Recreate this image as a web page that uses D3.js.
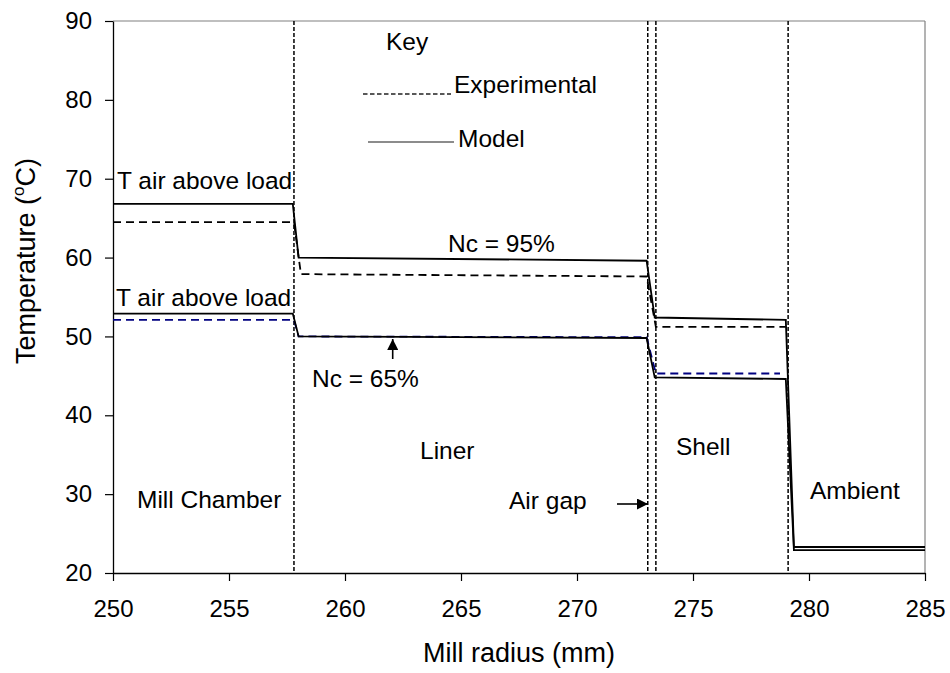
<!DOCTYPE html>
<html>
<head>
<meta charset="utf-8">
<script src="https://cdn.jsdelivr.net/npm/d3@7"></script>
<style>
  html, body { margin: 0; padding: 0; background: #fff; }
  svg { display: block; font-family: "Liberation Sans", Arial, sans-serif; }
</style>
</head>
<body>
<svg id="chart" width="950" height="673"></svg>
<script>
// Axis ticks
const radiusTicks = [250, 255, 260, 265, 270, 275, 280, 285];
const tempTicks = [20, 30, 40, 50, 60, 70, 80, 90];

// Layer boundaries (mm): chamber/liner, liner/air gap, air gap/shell, shell/ambient
const boundaries = [257.8, 273.05, 273.4, 279.1];

// Model profiles
const modelRadius = [250, 257.75, 258.0, 273.0, 273.35, 279.0, 279.35, 285];
const modelTemp95 = [66.8, 66.8, 60.0, 59.6, 52.4, 52.1, 23.3, 23.3];
const modelTemp65 = [52.9, 52.9, 50.0, 49.8, 44.8, 44.6, 22.9, 22.9];

// Experimental profiles
const expRadius95 = [250, 257.8, 258.1, 273.0, 273.4, 279.0];
const expTemp95 = [64.5, 64.5, 57.9, 57.6, 51.2, 51.2];
const expRadius65 = [250, 257.8, 258.0, 273.0, 273.4, 278.75];
const expTemp65 = [52.1, 52.1, 50.0, 49.9, 45.3, 45.3];

const svg = d3.select("#chart");
const x = d3.scaleLinear().domain([250, 285]).range([113, 925]);
const y = d3.scaleLinear().domain([20, 90]).range([573, 21]);

// Plot frame: grey top and right edges
svg.append("line").attr("x1", x(250)).attr("x2", x(285)).attr("y1", y(90)).attr("y2", y(90))
  .attr("stroke", "#808080").attr("stroke-width", 1.2);
svg.append("line").attr("x1", x(285)).attr("x2", x(285)).attr("y1", y(90)).attr("y2", y(20))
  .attr("stroke", "#808080").attr("stroke-width", 1.2);

// Axes
const yAxis = svg.append("g").attr("transform", `translate(${x(250)},0)`)
  .call(d3.axisLeft(y).tickValues(tempTicks).tickSize(8).tickPadding(13).tickSizeOuter(0));
const xAxis = svg.append("g").attr("transform", `translate(0,${y(20)})`)
  .call(d3.axisBottom(x).tickValues(radiusTicks).tickSize(8).tickPadding(18.5).tickSizeOuter(0));
[yAxis, xAxis].forEach(g => {
  g.select(".domain").attr("stroke", "#000").attr("stroke-width", 1.3);
  g.selectAll(".tick line").attr("stroke", "#000").attr("stroke-width", 1.2);
  g.selectAll(".tick text").attr("font-size", 24).attr("fill", "#000")
    .attr("font-family", "Liberation Sans, Arial, sans-serif");
});

// Layer boundary lines
svg.selectAll("line.boundary").data(boundaries).join("line")
  .attr("class", "boundary")
  .attr("x1", d => x(d)).attr("x2", d => x(d))
  .attr("y1", y(90)).attr("y2", y(20))
  .attr("stroke", "#000").attr("stroke-width", 1.5).attr("stroke-dasharray", "4,2");

const line = d3.line().x(d => x(d[0])).y(d => y(d[1]));
const zip = (a, b) => a.map((v, i) => [v, b[i]]);

// Experimental series (dashed)
svg.append("path").datum(zip(expRadius95, expTemp95)).attr("d", line)
  .attr("fill", "none").attr("stroke", "#000").attr("stroke-width", 1.8).attr("stroke-dasharray", "8,5");
svg.append("path").datum(zip(expRadius65, expTemp65)).attr("d", line)
  .attr("fill", "none").attr("stroke", "#000080").attr("stroke-width", 1.8).attr("stroke-dasharray", "8,5");

// Model series (solid)
svg.append("path").datum(zip(modelRadius, modelTemp95)).attr("d", line)
  .attr("fill", "none").attr("stroke", "#000").attr("stroke-width", 1.8);
svg.append("path").datum(zip(modelRadius, modelTemp65)).attr("d", line)
  .attr("fill", "none").attr("stroke", "#000").attr("stroke-width", 1.8);

// Key
svg.append("text").attr("x", 386).attr("y", 50).attr("font-size", 24.5).text("Key");
svg.append("line").attr("x1", 363).attr("x2", 451).attr("y1", 94).attr("y2", 94)
  .attr("stroke", "#222").attr("stroke-width", 1.3).attr("stroke-dasharray", "4.5,2.5");
svg.append("text").attr("x", 454).attr("y", 93).attr("font-size", 24.5).text("Experimental");
svg.append("line").attr("x1", 368).attr("x2", 454).attr("y1", 142).attr("y2", 142)
  .attr("stroke", "#666").attr("stroke-width", 1.3);
svg.append("text").attr("x", 458).attr("y", 147).attr("font-size", 24.5).text("Model");

// Annotations
const labels = [
  { t: "T air above load", x: 117, y: 189 },
  { t: "T air above load", x: 116, y: 306 },
  { t: "Nc = 95%", x: 448, y: 252 },
  { t: "Nc = 65%", x: 312, y: 387 },
  { t: "Liner", x: 420, y: 459 },
  { t: "Shell", x: 676, y: 455 },
  { t: "Mill Chamber", x: 137, y: 508 },
  { t: "Air gap", x: 509, y: 509 },
  { t: "Ambient", x: 810, y: 499 }
];
svg.selectAll("text.note").data(labels).join("text")
  .attr("class", "note").attr("x", d => d.x).attr("y", d => d.y)
  .attr("font-size", 24.5).attr("fill", "#000").text(d => d.t);

// Arrows
const defs = svg.append("defs");
defs.append("marker").attr("id", "head").attr("viewBox", "0 0 10 10")
  .attr("refX", 10).attr("refY", 5).attr("markerWidth", 11).attr("markerHeight", 11)
  .attr("markerUnits", "userSpaceOnUse").attr("orient", "auto")
  .append("path").attr("d", "M0,0 L10,5 L0,10 Z").attr("fill", "#000");
svg.append("line").attr("x1", 392.7).attr("x2", 392.7).attr("y1", 359).attr("y2", 339)
  .attr("stroke", "#000").attr("stroke-width", 1.6).attr("marker-end", "url(#head)");
svg.append("line").attr("x1", 617).attr("x2", 648).attr("y1", 504).attr("y2", 504)
  .attr("stroke", "#000").attr("stroke-width", 1.6).attr("marker-end", "url(#head)");

// Axis titles
svg.append("text").attr("x", 519).attr("y", 662).attr("text-anchor", "middle")
  .attr("font-size", 27).text("Mill radius (mm)");
const yt = svg.append("text").attr("transform", "translate(35,261) rotate(-90)")
  .attr("text-anchor", "middle").attr("font-size", 27);
yt.append("tspan").text("Temperature (");
yt.append("tspan").attr("font-size", 17).attr("dy", -11).text("o");
yt.append("tspan").attr("dy", 11).text("C)");
</script>
</body>
</html>
